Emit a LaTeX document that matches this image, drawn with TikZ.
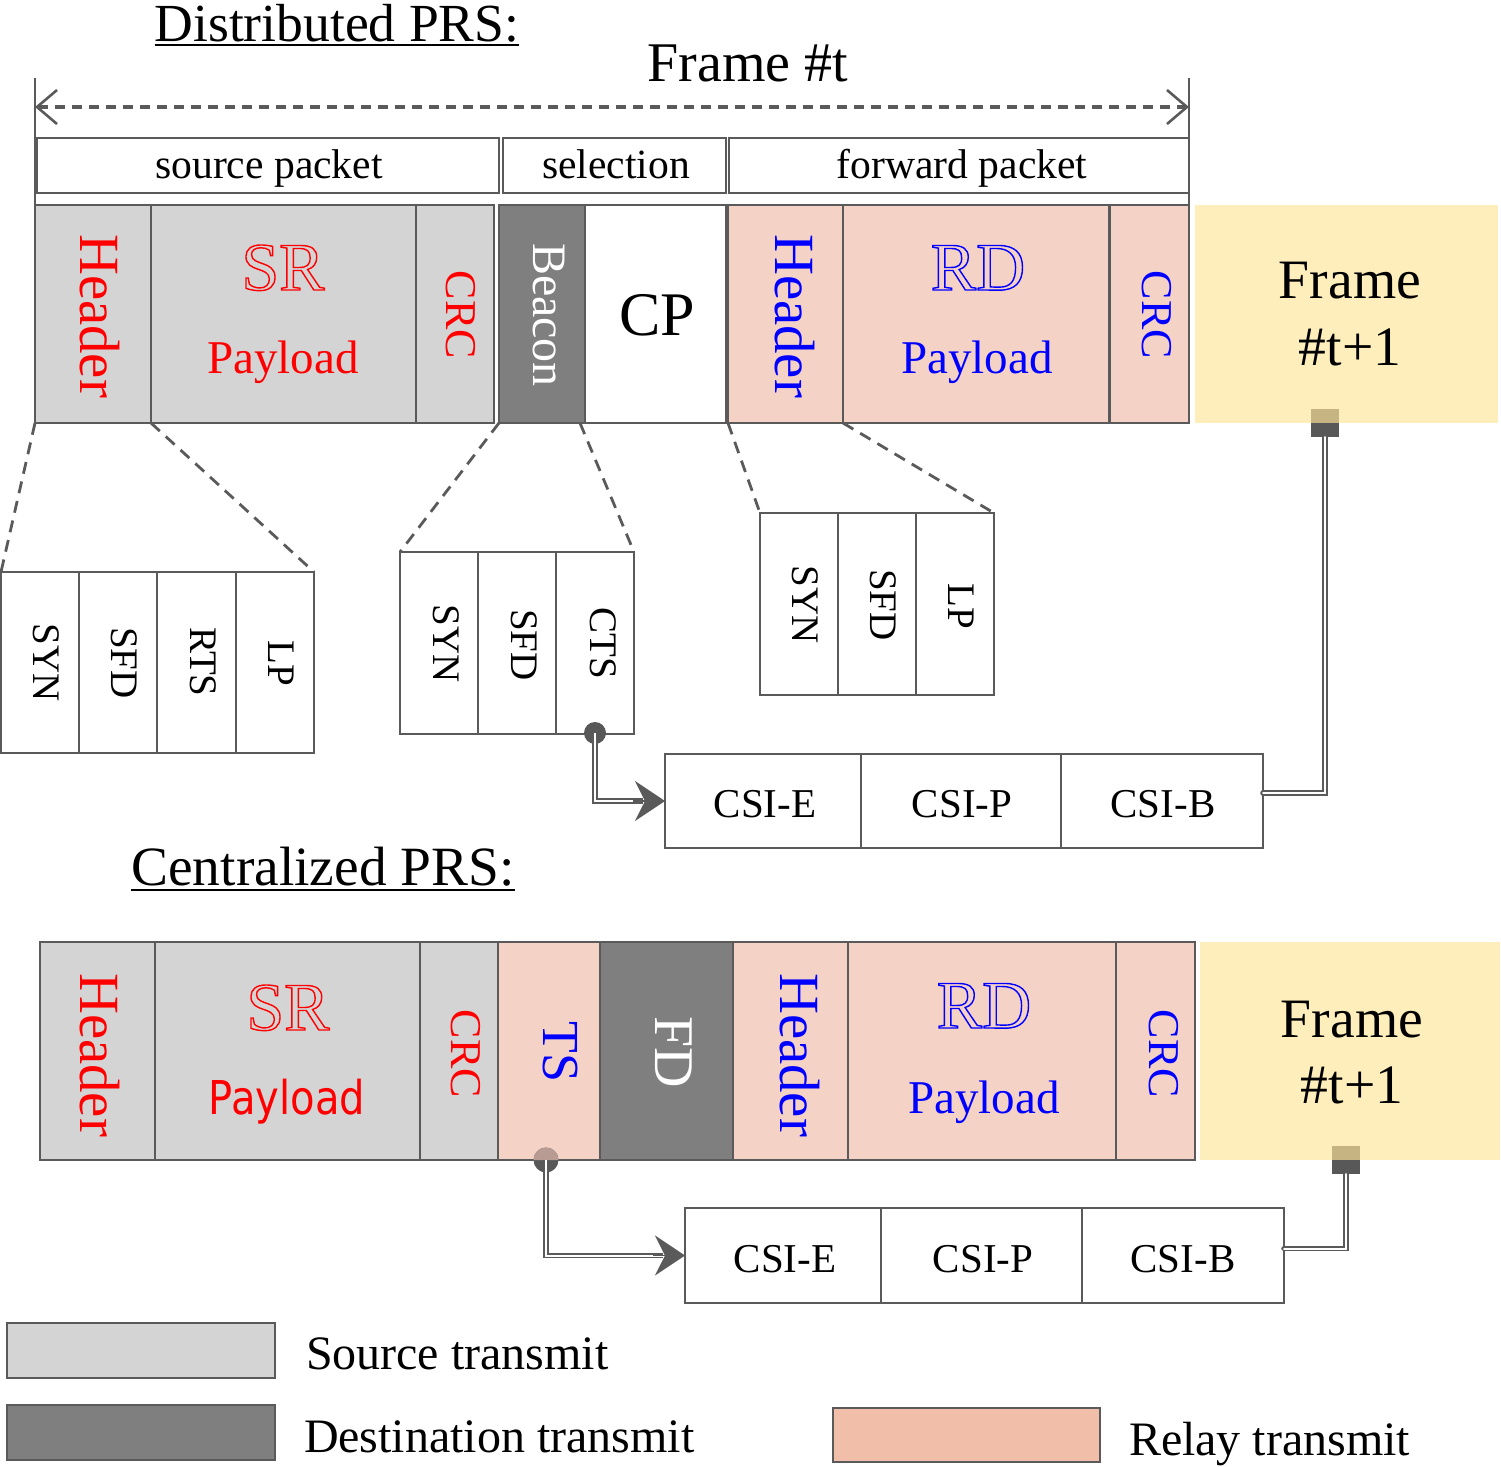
\documentclass[tikz,border=0pt]{standalone}
\usepackage{fontspec}
\setmainfont{Liberation Serif}
\newfontfamily\dejavu{DejaVu Sans}
\usetikzlibrary{arrows.meta,calc}
\definecolor{cgray}{HTML}{D4D4D4}
\definecolor{cdark}{HTML}{7F7F7F}
\definecolor{cpink}{HTML}{F5D2C6}
\definecolor{cyel}{HTML}{FDEEBB}
\definecolor{clegpink}{HTML}{F1BFA9}
\definecolor{cline}{HTML}{5A5A5A}
\definecolor{cdot}{HTML}{585858}
\definecolor{ctanY}{HTML}{C6B582}
\definecolor{ctanP}{HTML}{B89C94}
\newcommand\fs[1]{\fontsize{#1}{#1}\selectfont}
\newcommand\outl[1]{\special{pdf:literal direct q 1 Tr 0.7 w}#1\special{pdf:literal direct Q}}
\newcommand\cellbox[6]{\node[#6, minimum width={(#4-#2)*0.5pt}, minimum height={(#5-#3)*0.5pt}] (#1) at ({(#2+#4)/2},{(#3+#5)/2}) {};}
\tikzset{
  every node/.style={inner sep=0pt, outer sep=0pt},
  bx/.style={draw=cline, line width=1pt},
  csi/.style={draw=cline, line width=1.4pt, fill=white},
  rot/.style={rotate=-90},
  dsh/.style={draw=cline, line width=1.4pt, dash pattern=on 6pt off 4pt},
  conn/.style={draw=cline, line width=0.9pt, double=white, double distance=1pt},
  tip/.style={draw=cline, fill=cline, line width=0.8pt, -{Stealth[length=15pt,width=20pt,inset=5pt]}},
}
\begin{document}
\begin{tikzpicture}[x=0.5pt,y=-0.5pt]
\useasboundingbox (0,0) rectangle (1501,1467);
% ---------- Distributed PRS ----------
\node[anchor=base, font=\fs{26.8}] (tdist) at (337,41) {Distributed PRS:};
\draw[line width=1pt] ([yshift=-2pt]tdist.base west) -- ([yshift=-2pt]tdist.base east);
\node[anchor=base, font=\fs{28}] (tframe) at (748,82) {Frame \#t};
% label boxes
\cellbox{lab1}{37}{138}{499}{193}{bx}
\cellbox{lab2}{503}{138}{726}{193}{bx}
\cellbox{lab3}{729}{138}{1189}{193}{bx}
\node[anchor=base, font=\fs{20.8}] at (269,178) {source packet};
\node[anchor=base, font=\fs{20.8}] at (616,178) {selection};
\node[anchor=base, font=\fs{20.8}] at (962,178) {forward packet};
% main row
\cellbox{hA}{35}{205}{151}{423}{bx, fill=cgray}
\cellbox{sA}{151}{205}{416}{423}{bx, fill=cgray}
\cellbox{cA}{416}{205}{494}{423}{bx, fill=cgray}
\cellbox{bA}{499}{205}{585}{423}{bx, fill=cdark}
\cellbox{cpA}{585}{205}{726}{423}{bx, fill=white}
\cellbox{hB}{728}{205}{843}{423}{bx, fill=cpink}
\cellbox{rB}{843}{205}{1109}{423}{bx, fill=cpink}
\cellbox{cB}{1110}{205}{1189}{423}{bx, fill=cpink}
\cellbox{fA}{1195}{205}{1498}{423}{fill=cyel}
% frame span
\coordinate (ftl) at (35,78);
\coordinate (ftr) at (1189,78);
\draw[cline, line width=1.2pt] (ftl) -- (hA.north west);
\draw[cline, line width=1.2pt] (ftr) -- (cB.north east);
\coordinate (fal) at (35,107);
\coordinate (far) at (1189,107);
\draw[cline, line width=1.6pt, dash pattern=on 5pt off 3.5pt, {Straight Barb[length=10pt,width=17pt,line width=1.3pt]}-{Straight Barb[length=10pt,width=17pt,line width=1.3pt]}] (fal) -- (far);
% texts main row
\node[rot, red, font=\fs{28.4}] at (100,316) {Header};
\node[anchor=base, red, font=\fs{34}] at (283,290) {\outl{SR}};
\node[anchor=base, red, font=\fs{23.5}] at (283,373) {Payload};
\node[rot, red, font=\fs{22}] at (461,315) {CRC};
\node[rot, white, font=\fs{24}] at (549,315) {Beacon};
\node[anchor=base, font=\fs{31}] at (657,335) {CP};
\node[rot, blue, font=\fs{28.4}] at (795,316) {Header};
\node[anchor=base, blue, font=\fs{34}] at (978,290) {\outl{RD}};
\node[anchor=base, blue, font=\fs{23.5}] at (977,373) {Payload};
\node[rot, blue, font=\fs{22}] at (1157,315) {CRC};
\node[anchor=base, font=\fs{27.8}] at (1350,298) {Frame};
\node[anchor=base, font=\fs{27.8}] at (1350,365) {\#t+1};
% sub boxes left
\cellbox{L1}{1}{572}{79}{753}{bx, fill=white}
\cellbox{L2}{79}{572}{157}{753}{bx, fill=white}
\cellbox{L3}{157}{572}{236}{753}{bx, fill=white}
\cellbox{L4}{236}{572}{314}{753}{bx, fill=white}
\node[rot, font=\fs{19.5}] at (46,663) {SYN};
\node[rot, font=\fs{19.5}] at (124,663) {SFD};
\node[rot, font=\fs{19.5}] at (203,662) {RTS};
\node[rot, font=\fs{19.5}] at (281,663) {LP};
% sub boxes middle
\cellbox{M1}{400}{552}{478}{734}{bx, fill=white}
\cellbox{M2}{478}{552}{556}{734}{bx, fill=white}
\cellbox{M3}{556}{552}{634}{734}{bx, fill=white}
\node[rot, font=\fs{19.5}] at (446,644) {SYN};
\node[rot, font=\fs{19.5}] at (524,645) {SFD};
\node[rot, font=\fs{19.5}] at (603,643) {CTS};
% sub boxes right
\cellbox{R1}{760}{513}{838}{695}{bx, fill=white}
\cellbox{R2}{838}{513}{916}{695}{bx, fill=white}
\cellbox{R3}{916}{513}{994}{695}{bx, fill=white}
\node[rot, font=\fs{19.5}] at (805,605) {SYN};
\node[rot, font=\fs{19.5}] at (883,605) {SFD};
\node[rot, font=\fs{19.5}] at (961,606) {LP};
% zoom dashed lines
\draw[dsh] (hA.south west) -- (L1.north west);
\draw[dsh] (hA.south east) -- (L4.north east);
\draw[dsh] (bA.south west) -- (M1.north west);
\draw[dsh] ([xshift=-2.5pt]bA.south east) -- (M3.north east);
\draw[dsh] (hB.south west) -- (R1.north west);
\draw[dsh] (hB.south east) -- (R3.north east);
% CSI row top
\cellbox{ce1}{665}{754}{861}{848}{csi}
\cellbox{cp1}{861}{754}{1061}{848}{csi}
\cellbox{cb1}{1061}{754}{1263}{848}{csi}
\node[anchor=base, font=\fs{20.5}] at (765,817) {CSI-E};
\node[anchor=base, font=\fs{20.5}] at (962,817) {CSI-P};
\node[anchor=base, font=\fs{20.5}] at (1163,817) {CSI-B};
% connectors top
\node[circle, fill=cdot, minimum size=11pt] (dot1) at (595,733) {};
\node[fill=cdot, minimum size=14pt] (sq1) at (1325,423) {};
\fill[ctanY] (sq1.north west) rectangle (sq1.east);
\draw[conn, shorten >=11pt] (dot1.center) |- (ce1.west);
\draw[tip] ([xshift=-16pt]ce1.west) -- (ce1.west);
\draw[conn, line cap=round] ([yshift=4pt]cb1.east) -| (sq1.south);
% ---------- Centralized PRS ----------
\node[anchor=base, font=\fs{27.7}] (tcent) at (323,885) {Centralized PRS:};
\draw[line width=1pt] ([yshift=-2.5pt]tcent.base west) -- ([yshift=-2.5pt]tcent.base east);
\cellbox{hC}{40}{942}{155}{1160}{bx, fill=cgray}
\cellbox{sC}{155}{942}{420}{1160}{bx, fill=cgray}
\cellbox{cC}{420}{942}{498}{1160}{bx, fill=cgray}
\cellbox{tsC}{498}{942}{600}{1160}{bx, fill=cpink}
\cellbox{fdC}{600}{942}{733}{1160}{bx, fill=cdark}
\cellbox{hD}{733}{942}{848}{1160}{bx, fill=cpink}
\cellbox{rD}{848}{942}{1116}{1160}{bx, fill=cpink}
\cellbox{cD}{1116}{942}{1195}{1160}{bx, fill=cpink}
\cellbox{fB}{1200}{942}{1500}{1160}{fill=cyel}
\node[rot, red, font=\fs{28.4}] at (100,1055) {Header};
\node[anchor=base, red, font=\fs{34}] at (288,1030) {\outl{SR}};
\node[anchor=base, red, font=\dejavu\fs{23.3}] at (287,1114) {\scalebox{0.86}[1]{Payload}};
\node[rot, red, font=\fs{22}] at (466,1054) {CRC};
\node[rot, blue, font=\fs{26}] at (560,1052) {TS};
\node[rot, white, font=\fs{28}] at (674,1052) {FD};
\node[rot, blue, font=\fs{28.4}] at (800,1055) {Header};
\node[anchor=base, blue, font=\fs{34}] at (984,1028) {\outl{RD}};
\node[anchor=base, blue, font=\fs{23.5}] at (984,1113) {Payload};
\node[rot, blue, font=\fs{22}] at (1164,1054) {CRC};
\node[anchor=base, font=\fs{27.8}] at (1352,1037) {Frame};
\node[anchor=base, font=\fs{27.8}] at (1352,1103) {\#t+1};
% CSI row bottom
\cellbox{ce2}{685}{1208}{881}{1303}{csi}
\cellbox{cp2}{881}{1208}{1082}{1303}{csi}
\cellbox{cb2}{1082}{1208}{1284}{1303}{csi}
\node[anchor=base, font=\fs{20.5}] at (785,1272) {CSI-E};
\node[anchor=base, font=\fs{20.5}] at (983,1272) {CSI-P};
\node[anchor=base, font=\fs{20.5}] at (1183,1272) {CSI-B};
% connectors bottom
\node[circle, fill=cdot, minimum size=12.5pt] (dot2) at (546,1160) {};
\fill[ctanP] (dot2.west) arc (180:0:6.25pt) -- cycle;
\node[fill=cdot, minimum size=14pt] (sq2) at (1346,1160) {};
\fill[ctanY] (sq2.north west) rectangle (sq2.east);
\draw[conn, shorten >=11pt] (dot2.center) |- (ce2.west);
\draw[tip] ([xshift=-16pt]ce2.west) -- (ce2.west);
\draw[conn, line cap=round] ([yshift=3.5pt]cb2.east) -| (sq2.south);
% ---------- legend ----------
\cellbox{lg1}{7}{1323}{275}{1378}{bx, line width=1.3pt, fill=cgray}
\cellbox{lg2}{7}{1405}{275}{1460}{bx, line width=1.3pt, fill=cdark}
\cellbox{lg3}{833}{1408}{1100}{1462}{bx, line width=1.3pt, fill=clegpink}
\node[anchor=base west, font=\fs{24}] at (306,1369) {Source transmit};
\node[anchor=base west, font=\fs{24}] at (304,1452) {Destination transmit};
\node[anchor=base west, font=\fs{24}] at (1129,1455) {Relay transmit};
\end{tikzpicture}
\end{document}
